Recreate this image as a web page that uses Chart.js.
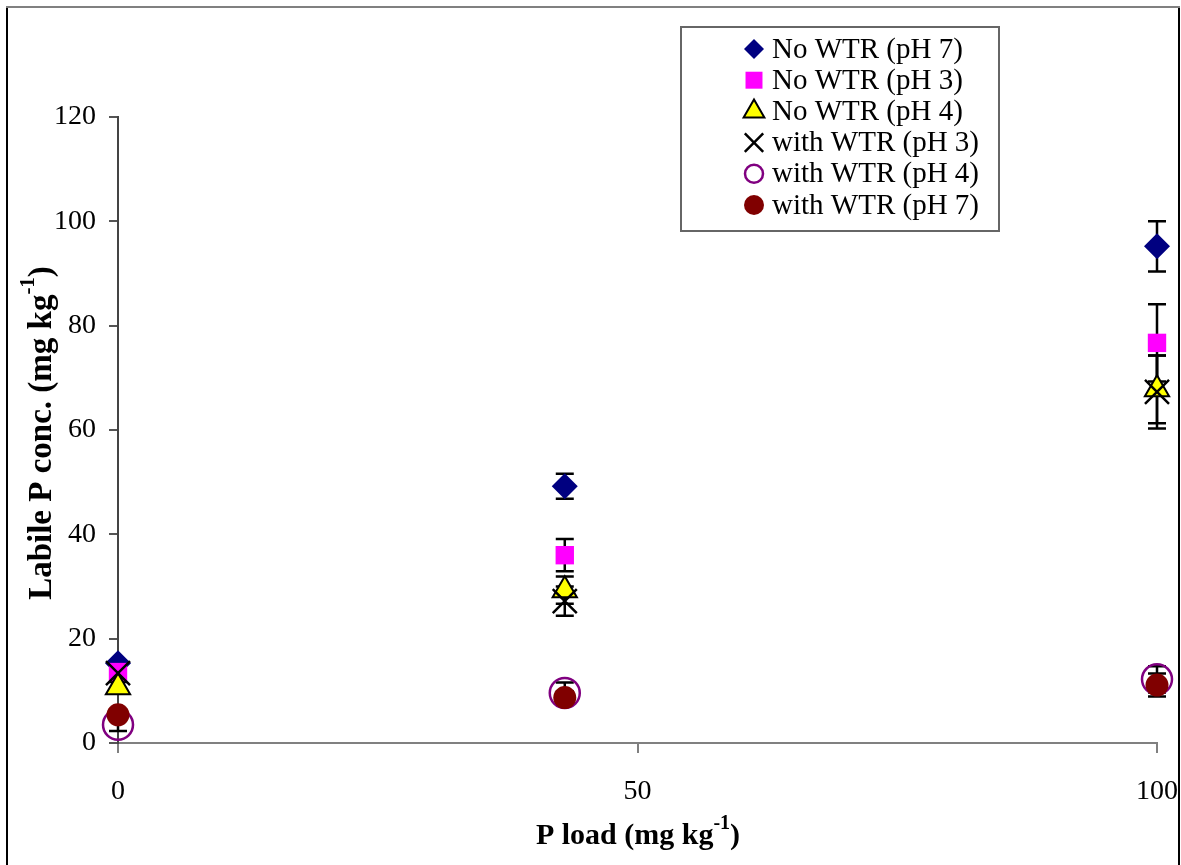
<!DOCTYPE html>
<html>
<head>
<meta charset="utf-8">
<title>Labile P vs P load</title>
<script src="https://cdn.jsdelivr.net/npm/chart.js@4/dist/chart.umd.min.js"></script>
<style>
  body { margin: 0; background: #fff; }
  canvas { display: block; }
</style>
</head>
<body>
<canvas id="myChart" width="1181" height="865"></canvas>
<script>
// P load levels (x) and labile P values (y)
var pLoad = [0, 43, 100];

var seriesNames = ['No WTR (pH 7)', 'No WTR (pH 3)', 'No WTR (pH 4)',
                   'with WTR (pH 3)', 'with WTR (pH 4)', 'with WTR (pH 7)'];

var noWtrPh7 = [15.3, 49.2, 95.2];
var noWtrPh3 = [13.6, 36.0, 76.7];
var noWtrPh4 = [10.7, 29.3, 67.8];
var withWtrPh3 = [13.4, 27.2, 67.3];
var withWtrPh4 = [3.5, 9.6, 12.2];
var withWtrPh7 = [5.4, 8.7, 11.1];

// error bar half-lengths
var errNoWtrPh7 = [0.5, 2.4, 4.8];
var errNoWtrPh3 = [1.0, 3.1, 7.4];
var errNoWtrPh4 = [1.0, 2.6, 6.5];
var errWithWtrPh3 = [1.5, 2.8, 7.0];
var errWithWtrPh4 = [1.2, 2.0, 2.5];
var errWithWtrPh7 = [0.8, 1.2, 2.2];

var yTicks = [0, 20, 40, 60, 80, 100, 120];
var xTicks = [0, 50, 100];

var serif = '"Liberation Serif", "Times New Roman", serif';

function points(values, errs) {
    return values.map(function (v, i) {
        return { x: pLoad[i], y: v, err: errs[i] };
    });
}

// style of each marker: plot radius and legend radius
var markers = [
    { style: 'rectRot', r: 13, lr: 10, fill: '#000080', stroke: '#000080', bw: 0, order: 3 },
    { style: 'rect', r: 13, lr: 12, fill: '#ff00ff', stroke: '#ff00ff', bw: 0, order: 2 },
    { style: 'triangle', r: 14, lr: 12, fill: '#ffff00', stroke: '#000000', bw: 2, order: 1 },
    { style: 'crossRot', r: 17, lr: 13, fill: 'rgba(0,0,0,0)', stroke: '#000000', bw: 2.5, order: 0 },
    { style: 'circle', r: 15, lr: 9, fill: 'rgba(0,0,0,0)', stroke: '#800080', bw: 2.5, order: 5 },
    { style: 'circle', r: 11.5, lr: 10, fill: '#800000', stroke: '#800000', bw: 0, order: 4 }
];

var allValues = [noWtrPh7, noWtrPh3, noWtrPh4, withWtrPh3, withWtrPh4, withWtrPh7];
var allErrs = [errNoWtrPh7, errNoWtrPh3, errNoWtrPh4, errWithWtrPh3, errWithWtrPh4, errWithWtrPh7];

var datasets = seriesNames.map(function (name, i) {
    var m = markers[i];
    return {
        label: name,
        data: points(allValues[i], allErrs[i]),
        pointStyle: m.style,
        pointRadius: m.r,
        pointHoverRadius: m.r,
        backgroundColor: m.fill,
        borderColor: m.stroke,
        borderWidth: m.bw,
        showLine: false,
        clip: false,
        order: m.order
    };
});

// Draw text with a superscript "-1" at the end
function drawSupText(ctx, main, sup, tail, x, y, size) {
    var supSize = Math.round(size * 0.65);
    ctx.font = 'bold ' + size + 'px ' + serif;
    var w1 = ctx.measureText(main).width;
    var w3 = ctx.measureText(tail).width;
    ctx.font = 'bold ' + supSize + 'px ' + serif;
    var w2 = ctx.measureText(sup).width;
    var start = x - (w1 + w2 + w3) / 2;
    ctx.textAlign = 'left';
    ctx.textBaseline = 'middle';
    ctx.font = 'bold ' + size + 'px ' + serif;
    ctx.fillText(main, start, y);
    ctx.fillText(tail, start + w1 + w2, y);
    ctx.font = 'bold ' + supSize + 'px ' + serif;
    ctx.fillText(sup, start + w1, y - size * 0.4);
}

var extras = {
    id: 'extras',
    beforeDraw: function (chart) {
        var ctx = chart.ctx;
        ctx.save();
        ctx.fillStyle = '#fff';
        ctx.fillRect(0, 0, chart.width, chart.height);
        // outer frame
        ctx.lineWidth = 2;
        ctx.strokeStyle = '#000';
        ctx.beginPath();
        ctx.moveTo(7, chart.height);
        ctx.lineTo(7, 7);
        ctx.moveTo(1179, 7);
        ctx.lineTo(1179, chart.height);
        ctx.stroke();
        ctx.strokeStyle = '#808080';
        ctx.beginPath();
        ctx.moveTo(6, 7);
        ctx.lineTo(1180, 7);
        ctx.stroke();
        ctx.restore();
    },
    beforeDatasetsDraw: function (chart) {
        // error bars
        var ctx = chart.ctx;
        var xs = chart.scales.x, ys = chart.scales.y;
        ctx.save();
        ctx.strokeStyle = '#000';
        ctx.lineWidth = 2.5;
        chart.data.datasets.forEach(function (ds) {
            ds.data.forEach(function (p) {
                var px = xs.getPixelForValue(p.x);
                var top = ys.getPixelForValue(p.y + p.err);
                var bot = ys.getPixelForValue(p.y - p.err);
                ctx.beginPath();
                ctx.moveTo(px, top);
                ctx.lineTo(px, bot);
                ctx.moveTo(px - 9, top);
                ctx.lineTo(px + 9, top);
                ctx.moveTo(px - 9, bot);
                ctx.lineTo(px + 9, bot);
                ctx.stroke();
            });
        });
        ctx.restore();
    },
    afterDraw: function (chart) {
        var ctx = chart.ctx;
        ctx.save();
        // legend box
        ctx.fillStyle = '#fff';
        ctx.fillRect(681, 27, 318, 204);
        ctx.strokeStyle = '#666';
        ctx.lineWidth = 2;
        ctx.strokeRect(681, 27, 318, 204);
        chart.data.datasets.forEach(function (ds, i) {
            var m = markers[i];
            var y = 49 + i * 31.2;
            ctx.fillStyle = m.fill;
            ctx.strokeStyle = m.stroke;
            ctx.lineWidth = m.bw;
            Chart.helpers.drawPoint(ctx, { pointStyle: m.style, radius: m.lr, borderWidth: m.bw, rotation: 0 }, 754, y);
            ctx.fillStyle = '#000';
            ctx.font = '29px ' + serif;
            ctx.textAlign = 'left';
            ctx.textBaseline = 'middle';
            ctx.fillText(ds.label, 772, y + 1);
        });
        // axis titles
        ctx.fillStyle = '#000';
        drawSupText(ctx, 'P load (mg kg', '-1', ')', 638, 836, 30);
        ctx.translate(42, 433);
        ctx.rotate(-Math.PI / 2);
        drawSupText(ctx, 'Labile P conc. (mg kg', '-1', ')', 0, 0, 33);
        ctx.restore();
    }
};

var ctx = document.getElementById('myChart').getContext('2d');
var myChart = new Chart(ctx, {
    type: 'scatter',
    data: { datasets: datasets },
    options: {
        responsive: false,
        animation: false,
        devicePixelRatio: 1,
        layout: { padding: { left: 0, top: 117, right: 24, bottom: 0 } },
        plugins: {
            legend: { display: false },
            tooltip: { enabled: false }
        },
        scales: {
            x: {
                type: 'linear',
                min: 0,
                max: 100,
                afterBuildTicks: function (scale) {
                    scale.ticks = xTicks.map(function (v) { return { value: v }; });
                },
                afterFit: function (scale) {
                    scale.height = 865 - 743;
                    scale.paddingLeft = 0;
                    scale.paddingRight = 0;
                },
                grid: { drawOnChartArea: false, drawTicks: true, tickLength: 10, color: '#808080', lineWidth: 2 },
                border: { color: '#808080', width: 2 },
                ticks: { color: '#000', padding: 22, font: { family: serif, size: 28 } }
            },
            y: {
                type: 'linear',
                min: 0,
                max: 120,
                afterBuildTicks: function (scale) {
                    scale.ticks = yTicks.map(function (v) { return { value: v }; });
                },
                afterFit: function (scale) {
                    scale.width = 118;
                    scale.paddingTop = 0;
                    scale.paddingBottom = 0;
                },
                grid: { drawOnChartArea: false, drawTicks: true, tickLength: 9, color: '#555', lineWidth: 2 },
                border: { color: '#444', width: 2 },
                ticks: { color: '#000', padding: 13, font: { family: serif, size: 28 } }
            }
        }
    },
    plugins: [extras]
});
</script>
</body>
</html>
